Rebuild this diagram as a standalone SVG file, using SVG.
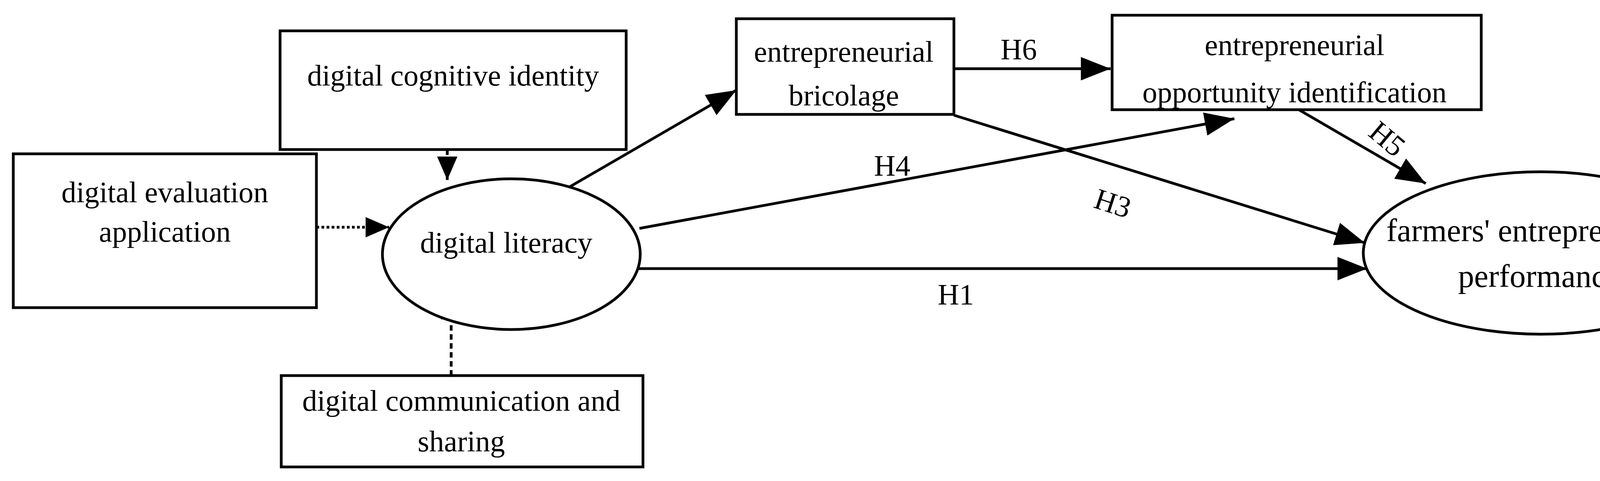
<svg xmlns="http://www.w3.org/2000/svg" width="4411" height="1232" viewBox="0 0 4411 1232">
<style>
.n{fill:#fff;stroke:#000;stroke-width:7}
.t{font-family:"Liberation Serif",serif;font-size:76px;text-anchor:middle;fill:#000}
.c{stroke:#000;stroke-width:7;fill:none;marker-end:url(#a)}
.d{stroke:#000;stroke-width:7;fill:none;marker-end:url(#b)}
</style>
<defs>
<marker id="a" markerUnits="userSpaceOnUse" markerWidth="80" markerHeight="64" refX="76" refY="30" orient="auto"><path d="M0,0 L76,30 L0,60 Z" fill="#000"/></marker>
<marker id="b" markerUnits="userSpaceOnUse" markerWidth="64" markerHeight="56" refX="60" refY="26" orient="auto"><path d="M0,0 L60,26 L0,52 Z" fill="#000"/></marker>
</defs>
<rect width="4411" height="1232" fill="#fff"/>
<g id="connectors">
<line class="d" x1="1145" y1="383" x2="1145" y2="461" stroke-dasharray="14,9"/>
<line class="d" x1="810" y1="582" x2="996" y2="582" stroke-dasharray="7,6"/>
<line class="d" x1="1155" y1="962" x2="1155" y2="758" stroke-dasharray="14,9"/>
<line class="c" x1="1449" y1="484" x2="1885" y2="231"/>
<line class="c" x1="1637" y1="585" x2="3160" y2="304"/>
<line class="c" x1="1617" y1="688" x2="3500" y2="688"/>
<line class="c" x1="2442" y1="176" x2="2843" y2="176"/>
<line class="c" x1="2442" y1="295" x2="3494" y2="622"/>
<line class="c" x1="3325" y1="281" x2="3650" y2="470"/>
<text class="t" x="2608" y="152">H6</text>
<text class="t" x="2284" y="450">H4</text>
<text class="t" x="2447" y="780">H1</text>
<text class="t" transform="translate(2841,545) rotate(18)">H3</text>
<text class="t" transform="translate(3535,375) rotate(40)">H5</text>
</g>
<g id="cognitive"><rect class="n" x="717" y="79" width="886" height="304"/><text class="t" x="1160" y="219">digital cognitive identity</text></g>
<g id="evaluation"><rect class="n" x="34" y="394" width="776" height="394"/><text class="t" x="422" y="518">digital evaluation</text><text class="t" x="422" y="619">application</text></g>
<g id="literacy"><ellipse class="n" cx="1309" cy="651" rx="330" ry="193"/><text class="t" x="1296" y="647">digital literacy</text></g>
<g id="communication"><rect class="n" x="720" y="962" width="926" height="234"/><text class="t" x="1181" y="1052">digital communication and</text><text class="t" x="1181" y="1156">sharing</text></g>
<g id="bricolage"><rect class="n" x="1885" y="48" width="557" height="245"/><text class="t" x="2160" y="158">entrepreneurial</text><text class="t" x="2160" y="270">bricolage</text></g>
<g id="opportunity"><rect class="n" x="2847" y="39" width="945" height="242"/><text class="t" x="3314" y="141">entrepreneurial</text><text class="t" x="3314" y="262">opportunity identification</text></g>
<g id="performance"><ellipse class="n" cx="3945" cy="648" rx="455" ry="208"/><text class="t" x="3940" y="618" style="font-size:82px">farmers' entrepreneurial</text><text class="t" x="3940" y="735" style="font-size:82px">performance</text></g>
</svg>
